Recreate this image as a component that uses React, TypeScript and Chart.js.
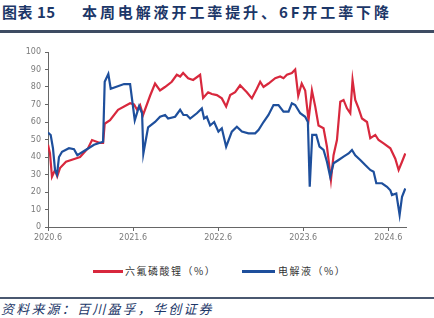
import React, { useEffect, useRef } from "react";
import { Chart, registerables } from "chart.js";
Chart.register(...registerables);

// x positions are months since 2020.6
const xTickMonths = [0, 12, 24, 36, 48];
const xTickLabels = ["2020.6", "2021.6", "2022.6", "2023.6", "2024.6"];

const lipf6Months = [
  0, 0.28, 0.56, 0.99, 1.3, 1.69, 2.54, 3.81, 4.52, 5.65, 6.21, 7.34, 7.77, 8.0, 8.75, 9.88, 11.58, 12.14,
  12.56, 12.99, 13.41, 14.4, 15.1, 15.8, 16.5, 17.46, 18.17, 18.64, 19.06, 19.77, 20.47, 21.46, 21.88, 22.59,
  23.11, 23.82, 24.52, 25.13, 25.7, 26.4, 27.1, 27.57, 28.05, 28.76, 29.46, 29.93, 30.4, 31.1, 32.05, 32.75,
  33.22, 33.7, 34.4, 34.87, 35.3, 35.79, 36.28, 36.75, 37.23, 37.7, 38.16, 38.87, 39.35, 39.91, 40.28, 40.76,
  41.23, 41.69, 42.17, 42.64, 42.96, 43.34, 43.81, 44.29, 45.0, 45.46, 46.17, 46.63, 47.34, 48.29, 48.99,
  49.46, 49.94, 50.4,
];
const lipf6Values = [
  47, 42, 28.7, 32.6, 29, 33.7, 37.3, 39, 40, 45, 49.7, 48, 48, 59, 61, 67, 70.7, 70,
  67, 69.7, 64, 75, 82, 78, 80, 83, 87, 86, 88, 85, 84, 87, 73.7, 77,
  76, 75.4, 73.5, 68.8, 75.4, 77, 81, 79, 77, 73.5, 79, 83, 80, 82, 85, 86,
  85, 87, 88, 90, 75, 82, 78, 61, 78, 68.8, 58, 56.4, 45.9, 26.9, 41, 49.7,
  71.6, 72.6, 67.8, 65, 84, 72.6, 67.8, 62, 60, 50.7, 52.6, 49.7, 47.8, 45, 39,
  32.6, 37.3, 42,
];

const electrolyteMonths = [
  0, 0.38, 0.7, 0.99, 1.27, 1.55, 1.98, 2.96, 3.67, 4.14, 5.32, 6.49, 7.77, 8.0, 8.51, 8.85, 10.73, 11.58,
  12.24, 12.85, 13.27, 13.45, 14.12, 15.1, 15.81, 16.52, 16.94, 17.93, 18.64, 19.1, 19.58, 20.05, 21.0, 21.7,
  22.02, 22.4, 22.87, 23.44, 24.04, 24.52, 25.13, 25.93, 26.64, 27.35, 28.28, 29.22, 29.69, 30.4, 31.1, 31.81,
  32.51, 33.22, 33.93, 34.4, 34.87, 35.58, 36.28, 36.66, 36.92, 37.27, 37.84, 38.3, 38.87, 39.35, 39.81, 40.28,
  40.99, 41.69, 42.4, 42.88, 43.34, 44.05, 44.75, 45.46, 45.93, 46.31, 47.11, 47.82, 48.29, 48.52, 49.13,
  49.6, 49.94, 50.4,
];
const electrolyteValues = [
  54, 52.6, 45, 32.6, 30, 40, 43, 45, 44.5, 41, 44, 47, 48.7, 83, 87.4, 79, 81.7, 81.7,
  61, 69, 65, 42, 57, 60, 63, 64, 62, 63, 67, 64, 64, 62, 65, 67.8,
  62, 63, 58, 60, 54.5, 56.4, 45.9, 54.5, 57.3, 54.5, 53.5, 53.5, 55.4, 60, 64, 69.7,
  69.7, 65.9, 65.9, 70.7, 69.7, 65, 63, 60, 23, 52.6, 52.6, 45.9, 44, 37.3, 28.7, 36.4,
  38.3, 40.2, 42, 44, 41, 38.3, 35.4, 32.6, 31.6, 25, 25, 23, 21, 18.3, 19.2,
  6.9, 17.3, 22,
];

const RED = "#D8283D";
const BLUE = "#1E4F9C";
const NAVY = "#1C3768";

export default function App() {
  const canvasRef = useRef<HTMLCanvasElement | null>(null);

  useEffect(() => {
    document.body.style.margin = "0";
    const canvas = canvasRef.current;
    if (!canvas) return;
    const chart = new Chart(canvas, {
      type: "line",
      data: {
        datasets: [
          {
            label: "六氟磷酸锂（%）",
            data: lipf6Months.map((m, i) => ({ x: m, y: lipf6Values[i] })),
            borderColor: RED,
            borderWidth: 2.2,
            pointRadius: 0,
            tension: 0,
            order: 2,
          },
          {
            label: "电解液（%）",
            data: electrolyteMonths.map((m, i) => ({ x: m, y: electrolyteValues[i] })),
            borderColor: BLUE,
            borderWidth: 2.2,
            pointRadius: 0,
            tension: 0,
            order: 1,
          },
        ],
      },
      options: {
        animation: false,
        responsive: true,
        maintainAspectRatio: false,
        layout: { padding: { top: 16, right: 28, left: 0, bottom: 0 } },
        plugins: { legend: { display: false }, tooltip: { enabled: false } },
        scales: {
          x: {
            type: "linear",
            min: 0,
            max: 50.5,
            afterBuildTicks: (s: any) => {
              s.ticks = xTickMonths.map((v) => ({ value: v }));
            },
            afterFit: (s: any) => {
              s.height = 20;
            },
            ticks: {
              autoSkip: false,
              maxRotation: 0,
              padding: 2,
              color: "#7a7a7a",
              font: { family: "'DejaVu Sans', sans-serif", size: 8 },
              callback: (v: any) => {
                const i = xTickMonths.indexOf(Number(v));
                return i >= 0 ? xTickLabels[i] : "";
              },
            },
            grid: { drawOnChartArea: false, drawTicks: true, tickLength: 4, color: "#666" },
            border: { display: true, color: "#666", width: 1 },
          },
          y: {
            min: 0,
            max: 100,
            afterFit: (s: any) => {
              s.width = 48;
            },
            ticks: {
              stepSize: 10,
              padding: 4,
              color: "#7a7a7a",
              font: { family: "'DejaVu Sans', sans-serif", size: 8 },
            },
            grid: { drawOnChartArea: false, drawTicks: true, tickLength: 3, color: "#666" },
            border: { display: true, color: "#666", width: 1 },
          },
        },
      },
    });
    return () => chart.destroy();
  }, []);

  const cjk = "'Noto Sans CJK SC', sans-serif";

  return (
    <div
      style={{
        position: "relative",
        width: 434,
        height: 318,
        background: "#fff",
        overflow: "hidden",
        fontFamily: cjk,
      }}
    >
      <div
        style={{
          position: "absolute",
          left: 2,
          top: 2,
          fontSize: 15,
          fontWeight: 700,
          color: NAVY,
          lineHeight: "20px",
          whiteSpace: "nowrap",
          letterSpacing: 0.5,
        }}
      >
        图表 15
      </div>
      <div
        style={{
          position: "absolute",
          left: 82,
          top: 2,
          fontSize: 15,
          fontWeight: 700,
          color: NAVY,
          lineHeight: "20px",
          whiteSpace: "nowrap",
          letterSpacing: 2.9,
        }}
      >
        本周电解液开工率提升、6F开工率下降
      </div>
      <div style={{ position: "absolute", left: 0, top: 30, width: 434, height: 2.5, background: "#3E4C63" }} />

      <div style={{ position: "absolute", left: 0, top: 36, width: 434, height: 211 }}>
        <canvas ref={canvasRef} />
      </div>

      <div style={{ position: "absolute", left: 93, top: 270, width: 30, height: 2.5, background: RED }} />
      <div
        style={{
          position: "absolute",
          left: 125,
          top: 263,
          fontSize: 10,
          lineHeight: "16px",
          color: "#333",
          whiteSpace: "nowrap",
          letterSpacing: 1.5,
        }}
      >
        六氟磷酸锂（%）
      </div>
      <div style={{ position: "absolute", left: 242, top: 270, width: 33, height: 2.5, background: BLUE }} />
      <div
        style={{
          position: "absolute",
          left: 278,
          top: 263,
          fontSize: 10,
          lineHeight: "16px",
          color: "#333",
          whiteSpace: "nowrap",
          letterSpacing: 1.5,
        }}
      >
        电解液（%）
      </div>

      <div style={{ position: "absolute", left: 0, top: 297, width: 434, height: 2, background: "#4A5870" }} />
      <div
        style={{
          position: "absolute",
          left: 1,
          top: 300,
          fontSize: 13,
          lineHeight: "17px",
          color: NAVY,
          fontStyle: "italic",
          whiteSpace: "nowrap",
          letterSpacing: 2.2,
        }}
      >
        资料来源：百川盈孚，华创证券
      </div>
    </div>
  );
}
